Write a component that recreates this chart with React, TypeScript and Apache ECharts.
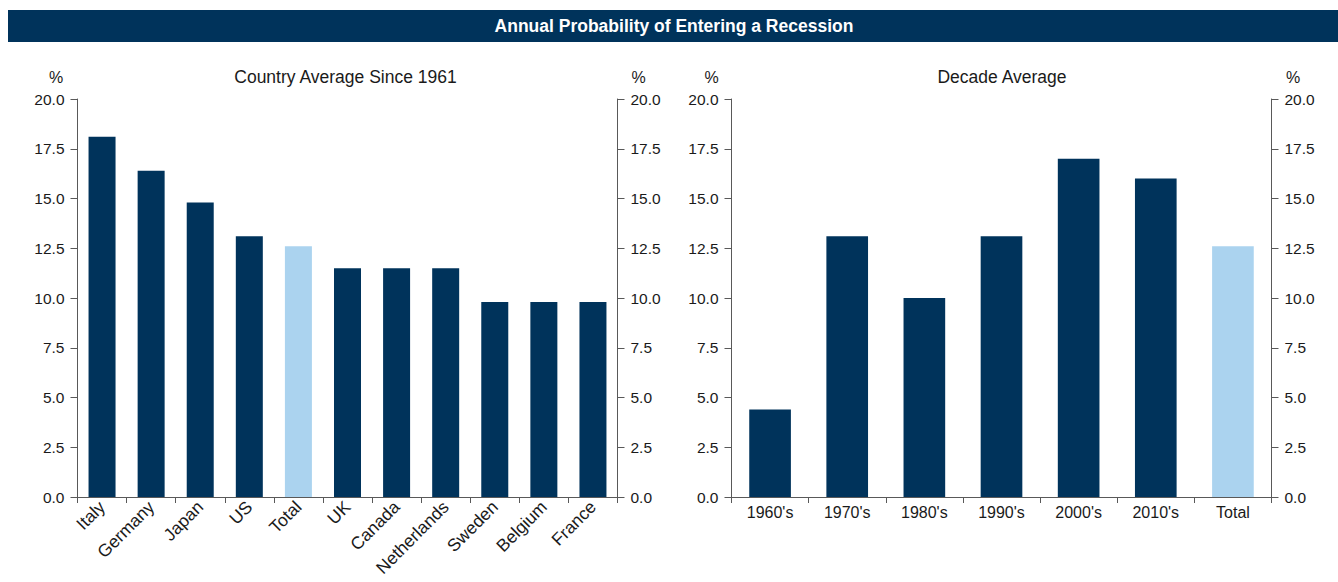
import React, { useEffect, useRef } from "react";
import * as echarts from "echarts";

const countries = ["Italy", "Germany", "Japan", "US", "Total", "UK", "Canada", "Netherlands", "Sweden", "Belgium", "France"];
const countryValues = [18.1, 16.4, 14.8, 13.1, 12.6, 11.5, 11.5, 11.5, 9.8, 9.8, 9.8];
const decades = ["1960's", "1970's", "1980's", "1990's", "2000's", "2010's", "Total"];
const decadeValues = [4.4, 13.1, 10.0, 13.1, 17.0, 16.0, 12.6];

const mainTitle = "Annual Probability of Entering a Recession";
const leftTitle = "Country Average Since 1961";
const rightTitle = "Decade Average";

const NAVY = "#00335B";
const LIGHT = "#ABD3EF";
const AXIS = "#595959";
const TEXT = "#1a1a1a";
const FONT = "Liberation Sans, Arial, sans-serif";

export default function App() {
  const ref = useRef<HTMLDivElement>(null);
  useEffect(() => {
    if (!ref.current) return;
    const chart = echarts.init(ref.current, undefined, { renderer: "svg" });
    const yAxisBase = (gridIndex: number, position: "left" | "right") => ({
      type: "value",
      gridIndex,
      position,
      min: 0,
      max: 20,
      interval: 2.5,
      splitLine: { show: false },
      axisLine: { show: true, lineStyle: { color: AXIS, width: 1 } },
      axisTick: { show: true, length: 7, lineStyle: { color: AXIS } },
      axisLabel: {
        color: TEXT,
        fontSize: 15.5,
        fontFamily: FONT,
        margin: 13,
        formatter: (v: number) => v.toFixed(1),
      },
    });
    const xAxisBase = (gridIndex: number, data: string[], rotate: number, fontSize: number) => ({
      type: "category",
      gridIndex,
      data,
      axisLine: { show: true, lineStyle: { color: AXIS, width: 1 } },
      axisTick: { show: true, length: 6, lineStyle: { color: AXIS } },
      axisLabel: {
        interval: 0,
        rotate,
        color: TEXT,
        fontSize,
        fontFamily: FONT,
        margin: 7,
      },
    });
    const colorize = (cats: string[], vals: number[]) =>
      vals.map((v, i) => ({
        value: v,
        itemStyle: { color: cats[i] === "Total" ? LIGHT : NAVY },
      }));
    chart.setOption({
      animation: false,
      textStyle: { fontFamily: FONT },
      grid: [
        { left: 77.5, right: 1338 - 617.5, top: 99, bottom: 582 - 497 },
        { left: 731.5, right: 1338 - 1271.5, top: 99, bottom: 582 - 497 },
      ],
      xAxis: [xAxisBase(0, countries, 45, 17.5), xAxisBase(1, decades, 0, 16)],
      yAxis: [
        yAxisBase(0, "left"),
        yAxisBase(0, "right"),
        yAxisBase(1, "left"),
        yAxisBase(1, "right"),
      ],
      series: [
        {
          type: "bar",
          xAxisIndex: 0,
          yAxisIndex: 0,
          barWidth: "55%",
          data: colorize(countries, countryValues),
        },
        {
          type: "bar",
          xAxisIndex: 1,
          yAxisIndex: 2,
          barWidth: "54%",
          data: colorize(decades, decadeValues),
        },
      ],
      graphic: [
        {
          type: "rect",
          shape: { x: 8, y: 10, width: 1330, height: 32 },
          style: { fill: NAVY },
        },
        {
          type: "text",
          x: 674,
          y: 26,
          style: {
            text: mainTitle,
            fill: "#fff",
            font: `bold 17.5px ${FONT}`,
            align: "center",
            verticalAlign: "middle",
          },
        },
        {
          type: "text",
          x: 345.5,
          y: 77,
          style: { text: leftTitle, fill: TEXT, font: `17.5px ${FONT}`, align: "center", verticalAlign: "middle" },
        },
        {
          type: "text",
          x: 1002,
          y: 77,
          style: { text: rightTitle, fill: TEXT, font: `17.5px ${FONT}`, align: "center", verticalAlign: "middle" },
        },
        ...[56, 638.5, 711.5, 1293].map((x) => ({
          type: "text",
          x,
          y: 77,
          style: { text: "%", fill: TEXT, font: `16px ${FONT}`, align: "center", verticalAlign: "middle" },
        })),
      ],
    });
    return () => chart.dispose();
  }, []);
  return (
    <div
      ref={ref}
      style={{ position: "absolute", left: 0, top: 0, width: 1338, height: 582, background: "#fff" }}
    />
  );
}
